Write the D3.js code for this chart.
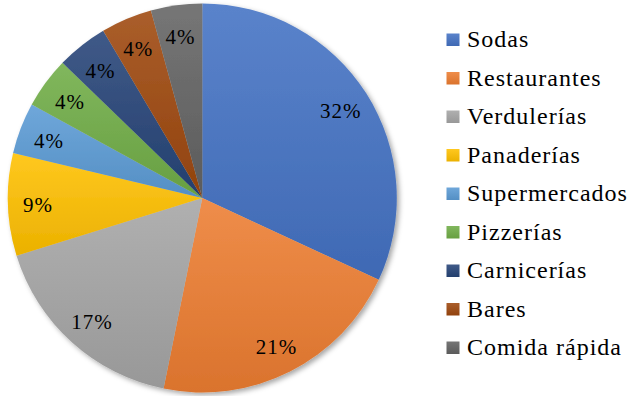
<!DOCTYPE html>
<html>
<head>
<meta charset="utf-8">
<script src="https://cdn.jsdelivr.net/npm/d3@7"></script>
<style>
  html, body { margin: 0; padding: 0; background: #fff; }
  svg { display: block; }
</style>
</head>
<body>
<svg id="chart" width="631" height="396"></svg>
<script>
// Establishments surveyed, by type
const categories = ["Sodas", "Restaurantes", "Verdulerías", "Panaderías", "Supermercados",
                    "Pizzerías", "Carnicerías", "Bares", "Comida rápida"];
const counts = [15, 10, 8, 4, 2, 2, 2, 2, 2];
const colors = ["#4472C4", "#ED7D31", "#A5A5A5", "#FFC000", "#5B9BD5",
                "#70AD47", "#264478", "#9E480E", "#636363"];

const data = categories.map((c, i) => ({ name: c, value: counts[i], color: colors[i] }));
const total = d3.sum(counts);
const FONT = '"Liberation Serif"';

const svg = d3.select("#chart");
const cx = 202.3, cy = 198, R = 194.5;

const defs = svg.append("defs");

// soft drop shadow under the pie
const shadow = defs.append("filter").attr("id", "pieShadow")
  .attr("x", "-10%").attr("y", "-10%").attr("width", "120%").attr("height", "120%");
shadow.append("feDropShadow")
  .attr("dx", 2.5).attr("dy", 2.5).attr("stdDeviation", 2.5)
  .attr("flood-color", "#000").attr("flood-opacity", 0.35);

// vertical gradient per slice: lighter at the top, a touch darker at the bottom
data.forEach((d, i) => {
  const g = defs.append("linearGradient").attr("id", "grad" + i)
    .attr("x1", 0).attr("y1", 0).attr("x2", 0).attr("y2", 1);
  const base = d3.color(d.color);
  g.append("stop").attr("offset", "0%").attr("stop-color", d3.interpolateRgb(base, "#fff")(0.12));
  g.append("stop").attr("offset", "100%").attr("stop-color", d3.interpolateRgb(base, "#000")(0.08));
});

const pie = d3.pie().value(d => d.value).sort(null);
const arcs = pie(data);
const arc = d3.arc().innerRadius(0).outerRadius(R);
const labelArc = d3.arc().innerRadius(R * 0.845).outerRadius(R * 0.845);

const gPie = svg.append("g").attr("transform", `translate(${cx},${cy})`);

gPie.append("g").attr("filter", "url(#pieShadow)")
  .selectAll("path").data(arcs).join("path")
  .attr("d", arc)
  .attr("fill", (d, i) => `url(#grad${i})`);

const pct = v => Math.round(v / total * 100) + "%";

gPie.append("g").selectAll("text").data(arcs).join("text")
  .attr("transform", d => `translate(${labelArc.centroid(d)})`)
  .attr("text-anchor", "middle")
  .attr("dy", "0.42em")
  .style("font-family", FONT)
  .style("font-size", "21px")
  .style("letter-spacing", "1px")
  .attr("fill", "#000")
  .text(d => pct(d.data.value));

// legend
const legendY = d3.scalePoint().domain(categories).range([40, 348]);
const gLeg = svg.append("g");
const rows = gLeg.selectAll("g").data(data).join("g")
  .attr("transform", d => `translate(446.5,${legendY(d.name)})`);

rows.append("rect")
  .attr("x", 0).attr("y", -6.5).attr("width", 13).attr("height", 12.5)
  .attr("fill", (d, i) => `url(#grad${i})`);

rows.append("text")
  .attr("x", 20.5).attr("dy", "0.3em")
  .style("font-family", FONT)
  .style("font-size", "24px")
  .style("letter-spacing", "1px")
  .attr("fill", "#000")
  .text(d => d.name);
</script>
</body>
</html>
